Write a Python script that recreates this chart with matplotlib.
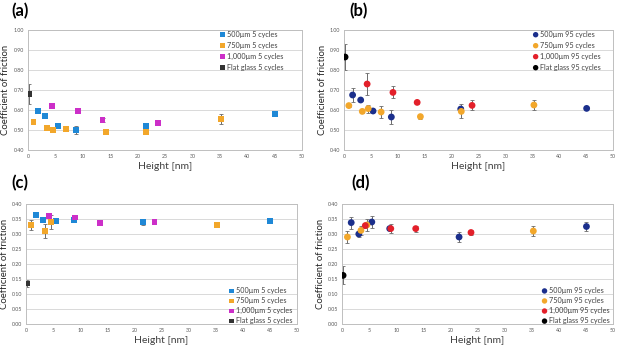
import matplotlib
matplotlib.use("Agg")
import matplotlib.pyplot as plt
import numpy as np

plt.rcParams['font.family'] = ['Lato', 'DejaVu Sans']

# ---------------- data ----------------
# (a) 5 cycles, COF 0.4-1.0
a_500_x = [1.8, 3.1, 5.4, 8.7, 21.5, 45.0]
a_500_y = [0.595, 0.570, 0.520, 0.500, 0.520, 0.580]
a_500_e = [0.008, 0.006, 0.008, 0.018, 0.008, 0.010]
a_750_x = [1.0, 3.5, 4.6, 6.9, 14.2, 21.6, 35.3]
a_750_y = [0.540, 0.510, 0.500, 0.505, 0.490, 0.490, 0.555]
a_750_e = [0.010, 0.008, 0.010, 0.012, 0.006, 0.006, 0.025]
a_1000_x = [4.3, 9.1, 13.6, 23.7]
a_1000_y = [0.620, 0.595, 0.550, 0.535]
a_1000_e = [0.012, 0.006, 0.008, 0.012]
a_flat_x = [0.2]
a_flat_y = [0.680]
a_flat_e = [0.050]

# (b) 95 cycles, COF 0.4-1.0
b_500_x = [1.6, 3.1, 5.4, 8.8, 21.7, 45.1]
b_500_y = [0.675, 0.650, 0.595, 0.565, 0.605, 0.608]
b_500_e = [0.035, 0.006, 0.006, 0.035, 0.010, 0.005]
b_750_x = [0.9, 3.4, 4.5, 6.9, 14.2, 21.8, 35.3]
b_750_y = [0.622, 0.593, 0.607, 0.590, 0.567, 0.593, 0.625]
b_750_e = [0.006, 0.006, 0.020, 0.030, 0.010, 0.035, 0.025]
b_1000_x = [4.3, 9.1, 13.6, 23.8]
b_1000_y = [0.730, 0.688, 0.638, 0.623]
b_1000_e = [0.055, 0.030, 0.006, 0.025]
b_flat_x = [0.2]
b_flat_y = [0.865]
b_flat_e = [0.065]

# (c) 5 cycles, COF 0-0.4
c_500_x = [1.8, 3.1, 5.5, 8.8, 21.6, 45.0]
c_500_y = [0.362, 0.346, 0.343, 0.348, 0.340, 0.343]
c_500_e = [0.005, 0.004, 0.004, 0.004, 0.009, 0.004]
c_750_x = [1.0, 3.5, 4.6, 35.3]
c_750_y = [0.330, 0.310, 0.340, 0.330]
c_750_e = [0.016, 0.022, 0.022, 0.004]
c_1000_x = [4.3, 9.1, 13.6, 23.7]
c_1000_y = [0.360, 0.355, 0.338, 0.340]
c_1000_e = [0.004, 0.004, 0.004, 0.004]
c_flat_x = [0.2]
c_flat_y = [0.135]
c_flat_e = [0.012]

# (d) 95 cycles, COF 0-0.4
d_500_x = [1.7, 3.1, 5.5, 8.8, 21.6, 45.1]
d_500_y = [0.338, 0.300, 0.340, 0.318, 0.290, 0.325]
d_500_e = [0.020, 0.010, 0.020, 0.006, 0.018, 0.015]
d_750_x = [1.0, 3.5, 4.6, 35.3]
d_750_y = [0.290, 0.312, 0.330, 0.310]
d_750_e = [0.020, 0.014, 0.020, 0.018]
d_1000_x = [4.3, 9.0, 13.6, 23.8]
d_1000_y = [0.328, 0.318, 0.318, 0.305]
d_1000_e = [0.008, 0.014, 0.010, 0.008]
d_flat_x = [0.2]
d_flat_y = [0.162]
d_flat_e = [0.030]

labels5 = ["500µm 5 cycles", "750µm 5 cycles", "1,000µm 5 cycles", "Flat glass 5 cycles"]
labels95 = ["500µm 95 cycles", "750µm 95 cycles", "1,000µm 95 cycles", "Flat glass 95 cycles"]

col5 = ["#1f88d6", "#f2a72b", "#cc2fc8", "#333333"]
col95 = ["#1b2f8c", "#f2a72b", "#e3202a", "#000000"]

fig = plt.figure(figsize=(6.2, 3.47), dpi=100)

W, H = 620.0, 347.0
def ax_at(x0, x1, y0, y1):
    return fig.add_axes([x0 / W, 1 - y1 / H, (x1 - x0) / W, (y1 - y0) / H])

axes = [ax_at(28, 302, 30, 150), ax_at(344, 613, 30, 150),
        ax_at(26, 297, 204, 324), ax_at(342, 613, 204, 324)]

panels = [
    ([(a_500_x, a_500_y, a_500_e), (a_750_x, a_750_y, a_750_e),
      (a_1000_x, a_1000_y, a_1000_e), (a_flat_x, a_flat_y, a_flat_e)],
     labels5, col5, 's', (0.4, 1.0), 0.1, "(a)"),
    ([(b_500_x, b_500_y, b_500_e), (b_750_x, b_750_y, b_750_e),
      (b_1000_x, b_1000_y, b_1000_e), (b_flat_x, b_flat_y, b_flat_e)],
     labels95, col95, 'o', (0.4, 1.0), 0.1, "(b)"),
    ([(c_500_x, c_500_y, c_500_e), (c_750_x, c_750_y, c_750_e),
      (c_1000_x, c_1000_y, c_1000_e), (c_flat_x, c_flat_y, c_flat_e)],
     labels5, col5, 's', (0.0, 0.4), 0.05, "(c)"),
    ([(d_500_x, d_500_y, d_500_e), (d_750_x, d_750_y, d_750_e),
      (d_1000_x, d_1000_y, d_1000_e), (d_flat_x, d_flat_y, d_flat_e)],
     labels95, col95, 'o', (0.0, 0.4), 0.05, "(d)"),
]

label_pos = [(11, 11), (349, 11), (11, 183), (351, 183)]
ylab_x = [-0.064, -0.065, -0.063, -0.061]
leg_cfg = [('upper left', (0.697, 0.995), 0.55),
           ('upper left', (0.699, 0.995), 0.55),
           ('lower left', (0.745, 0.0), 0.42),
           ('lower left', (0.734, 0.0), 0.42)]

for i, (ax, (series, labels, cols, mk, ylim, ystep, plab)) in enumerate(zip(axes, panels)):
    handles = []
    for (x, y, e), lab, c in zip(series, labels, cols):
        ax.errorbar(x, y, yerr=e, fmt='none', ecolor='#6b6b6b', elinewidth=0.7,
                    capsize=1.2, capthick=0.6, zorder=2)
        h = ax.scatter(x, y, marker=mk, s=24 if mk == 'o' else 18, color=c,
                       edgecolors='none', zorder=3, label=lab)
        handles.append(h)
    ax.set_xlim(0, 50)
    ax.set_ylim(*ylim)
    ax.set_xticks(np.arange(0, 51, 5))
    yt = np.arange(ylim[0], ylim[1] + 1e-9, ystep)
    ax.set_yticks(yt)
    ax.set_yticklabels([f"{v:.2f}" for v in yt])
    ax.yaxis.grid(True, color='#d9d9d9', linewidth=0.7)
    ax.set_axisbelow(True)
    ax.tick_params(length=0, labelsize=3.8, labelcolor='#595959', pad=3)
    for s in ax.spines.values():
        s.set_color('#bfbfbf')
        s.set_linewidth(0.7)
    ax.set_xlabel("Height [nm]", fontsize=7.5, color='#404040', labelpad=2)
    ax.set_ylabel("Coefficient of friction", fontsize=6.8, color='#262626')
    ax.yaxis.set_label_coords(ylab_x[i], 0.5)
    loc, anchor, lsp = leg_cfg[i]
    leg = ax.legend(handles=handles, loc=loc, bbox_to_anchor=anchor, fontsize=5.2,
                    frameon=False, handletextpad=0.1, handlelength=1.0,
                    labelspacing=lsp, borderaxespad=0.0, borderpad=0.0,
                    markerscale=0.8)
    for t in leg.get_texts():
        t.set_color('#404040')
    lp = label_pos[i]
    fig.text(lp[0] / W, 1 - lp[1] / H, plab, fontsize=12, fontweight='bold',
             ha='left', va='center', color='black')

fig.savefig("out.png", dpi=100)
